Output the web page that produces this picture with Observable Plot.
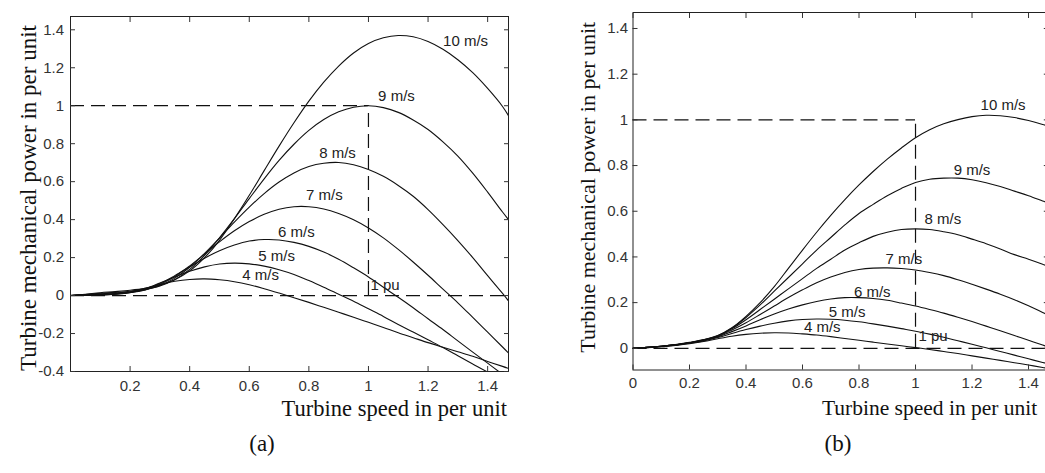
<!DOCTYPE html>
<html>
<head>
<meta charset="utf-8">
<script src="https://cdn.jsdelivr.net/npm/d3@7"></script>
<script src="https://cdn.jsdelivr.net/npm/@observablehq/plot@0.6"></script>
<style>
  html, body { margin: 0; padding: 0; background: #fff; overflow: hidden; width: 1045px; height: 473px; }
  #wrap { position: relative; width: 1045px; height: 473px; overflow: hidden; }
  .panel { position: absolute; top: 0; }
  .panel svg { max-width: none !important; display: block; }
  .caption { position: absolute; font-family: "Liberation Serif", "Times New Roman", serif; font-size: 23px; color: #111; transform: translate(-50%, -50%); }
</style>
</head>
<body>
<div id="wrap">
  <div id="panelA" class="panel" style="left:0px; width:520px"></div>
  <div id="panelB" class="panel" style="left:520px; width:540px"></div>
  <div class="caption" style="left:262px; top:444px">(a)</div>
  <div class="caption" style="left:838px; top:444px">(b)</div>
</div>
<script>
// Turbine speed (pu) at which every curve is sampled
const speed = [0, 0.05, 0.1, 0.15, 0.2, 0.25, 0.3, 0.35, 0.4, 0.45, 0.5, 0.55, 0.6, 0.65, 0.7, 0.75,
               0.8, 0.85, 0.9, 0.95, 1, 1.05, 1.1, 1.15, 1.2, 1.25, 1.3, 1.35, 1.4, 1.45, 1.47];
const windSpeeds = ["10 m/s", "9 m/s", "8 m/s", "7 m/s", "6 m/s", "5 m/s", "4 m/s"];

// Panel (a): mechanical power (pu) per wind speed
const powerA10 = [0, 0.007, 0.015, 0.021, 0.028, 0.038, 0.054, 0.083, 0.130, 0.200, 0.291, 0.405, 0.528, 0.658, 0.787, 0.910,
                  1.024, 1.124, 1.209, 1.278, 1.328, 1.358, 1.370, 1.363, 1.338, 1.297, 1.242, 1.174, 1.091, 0.996, 0.947];
const powerA9  = [0, 0.006, 0.012, 0.017, 0.023, 0.032, 0.050, 0.084, 0.138, 0.212, 0.304, 0.405, 0.511, 0.615, 0.712, 0.797,
                  0.870, 0.927, 0.968, 0.992, 1.000, 0.990, 0.965, 0.925, 0.875, 0.810, 0.735, 0.645, 0.545, 0.440, 0.400];
const powerA8  = [0, 0.005, 0.009, 0.014, 0.019, 0.030, 0.053, 0.092, 0.149, 0.222, 0.303, 0.387, 0.466, 0.537, 0.598, 0.646,
                  0.680, 0.697, 0.701, 0.689, 0.664, 0.628, 0.580, 0.523, 0.453, 0.374, 0.290, 0.200, 0.105, 0.011, -0.028];
const powerA7  = [0, 0.004, 0.007, 0.010, 0.016, 0.030, 0.058, 0.100, 0.156, 0.219, 0.283, 0.341, 0.390, 0.428, 0.455, 0.468,
                  0.468, 0.456, 0.432, 0.399, 0.356, 0.304, 0.243, 0.177, 0.107, 0.034, -0.038, -0.115, -0.193, -0.271, -0.303];
const powerA6  = [0, 0.003, 0.005, 0.008, 0.015, 0.033, 0.063, 0.105, 0.151, 0.197, 0.236, 0.266, 0.287, 0.295, 0.293, 0.280,
                  0.259, 0.229, 0.191, 0.146, 0.098, 0.044, -0.009, -0.064, -0.122, -0.179, -0.239, -0.298, -0.356, -0.415, -0.439];
const powerA5  = [0, 0.002, 0.004, 0.007, 0.016, 0.036, 0.066, 0.098, 0.128, 0.151, 0.166, 0.171, 0.167, 0.155, 0.136, 0.111,
                  0.079, 0.044, 0.007, -0.030, -0.070, -0.110, -0.152, -0.192, -0.233, -0.274, -0.317, -0.360, -0.403, -0.444, -0.460];
const powerA4  = [0, 0.001, 0.002, 0.007, 0.019, 0.038, 0.058, 0.075, 0.085, 0.088, 0.083, 0.073, 0.057, 0.036, 0.013, -0.011,
                  -0.036, -0.062, -0.088, -0.114, -0.141, -0.168, -0.196, -0.222, -0.248, -0.272, -0.296, -0.320, -0.347, -0.373, -0.384];

// Panel (b): mechanical power (pu) per wind speed
const powerB10 = [0, 0.004, 0.009, 0.016, 0.026, 0.038, 0.056, 0.090, 0.140, 0.200, 0.270, 0.350, 0.430, 0.508, 0.582, 0.651,
                  0.715, 0.774, 0.828, 0.877, 0.922, 0.957, 0.983, 1.001, 1.014, 1.020, 1.018, 1.010, 0.997, 0.980, 0.972];
const powerB9  = [0, 0.004, 0.009, 0.015, 0.025, 0.037, 0.055, 0.088, 0.135, 0.190, 0.250, 0.310, 0.370, 0.430, 0.485, 0.540,
                  0.590, 0.630, 0.668, 0.700, 0.726, 0.740, 0.745, 0.745, 0.738, 0.725, 0.708, 0.688, 0.668, 0.645, 0.636];
const powerB8  = [0, 0.004, 0.009, 0.015, 0.024, 0.036, 0.054, 0.085, 0.125, 0.170, 0.215, 0.260, 0.305, 0.350, 0.390, 0.430,
                  0.462, 0.490, 0.508, 0.520, 0.523, 0.520, 0.510, 0.497, 0.478, 0.458, 0.435, 0.410, 0.390, 0.368, 0.358];
const powerB7  = [0, 0.004, 0.009, 0.015, 0.024, 0.035, 0.052, 0.080, 0.112, 0.148, 0.185, 0.222, 0.256, 0.287, 0.312, 0.332,
                  0.345, 0.351, 0.352, 0.349, 0.343, 0.332, 0.318, 0.300, 0.280, 0.259, 0.237, 0.213, 0.186, 0.157, 0.145];
const powerB6  = [0, 0.004, 0.009, 0.015, 0.023, 0.034, 0.050, 0.073, 0.098, 0.125, 0.150, 0.172, 0.190, 0.205, 0.216, 0.222,
                  0.222, 0.218, 0.210, 0.198, 0.185, 0.170, 0.154, 0.136, 0.117, 0.097, 0.077, 0.056, 0.035, 0.014, 0.005];
const powerB5  = [0, 0.003, 0.008, 0.014, 0.022, 0.032, 0.047, 0.065, 0.082, 0.097, 0.110, 0.120, 0.126, 0.128, 0.127, 0.123,
                  0.116, 0.107, 0.097, 0.086, 0.075, 0.062, 0.048, 0.033, 0.018, 0.002, -0.014, -0.030, -0.046, -0.062, -0.068];
const powerB4  = [0, 0.003, 0.007, 0.013, 0.020, 0.030, 0.042, 0.053, 0.061, 0.066, 0.068, 0.067, 0.063, 0.058, 0.051, 0.043,
                  0.035, 0.027, 0.019, 0.011, 0.003, -0.005, -0.014, -0.023, -0.033, -0.043, -0.053, -0.063, -0.073, -0.084, -0.088];

// Where each wind-speed tag sits (speed, power of its baseline)
const tagSpeedA = [1.326, 1.094, 0.896, 0.852, 0.758, 0.692, 0.638];
const tagPowerA = [1.312, 1.023, 0.724, 0.505, 0.308, 0.180, 0.080];
const tagSpeedB = [1.310, 1.200, 1.097, 0.959, 0.847, 0.758, 0.670];
const tagPowerB = [1.041, 0.757, 0.542, 0.370, 0.224, 0.136, 0.070];

// Rated operating point and axis ticks
const ratedSpeed = 1;
const ratedPower = 1;
const ticksXA = [0.2, 0.4, 0.6, 0.8, 1, 1.2, 1.4];
const ticksYA = [-0.4, -0.2, 0, 0.2, 0.4, 0.6, 0.8, 1, 1.2, 1.4];
const ticksXB = [0, 0.2, 0.4, 0.6, 0.8, 1, 1.2, 1.4];
const ticksYB = [0, 0.2, 0.4, 0.6, 0.8, 1, 1.2, 1.4];

const xTitle = "Turbine speed in per unit";
const yTitle = "Turbine mechanical power in per unit";

const SANS = "Liberation Sans, Arial, Helvetica, sans-serif";
const SERIF = "Liberation Serif, Times New Roman, serif";

function rowsOf(series) {
  return series.flatMap((values, k) => values.map((p, i) => ({name: windSpeeds[k], speed: speed[i], power: p})));
}
function tagsOf(xs, ys) {
  return windSpeeds.map((name, k) => ({name, speed: xs[k], power: ys[k]}));
}
const fmt = d => String(Math.round(d * 10) / 10);

function panel(o) {
  const dash = {stroke: "#111", strokeWidth: 1.2, strokeDasharray: "14,7"};
  return Plot.plot({
    width: o.width, height: o.height,
    marginLeft: o.ml, marginRight: o.mr, marginTop: o.mt, marginBottom: o.mb,
    style: {background: "white", color: "#222", fontFamily: SANS, fontSize: "15px", maxWidth: "none"},
    x: {domain: [0, 1.47]},
    y: {domain: o.yDomain},
    marks: [
      Plot.ruleY([ratedPower], {x1: 0, x2: ratedSpeed, ...dash}),
      Plot.ruleY([0], dash),
      Plot.ruleX([ratedSpeed], {y1: 0, y2: ratedPower, ...dash}),
      Plot.line(o.rows, {x: "speed", y: "power", z: "name", stroke: "#111", strokeWidth: 1.1, curve: "catmull-rom", clip: true}),
      Plot.text(o.tags, {x: "speed", y: "power", text: "name", textAnchor: "middle", lineAnchor: "bottom", fill: "#222", fontSize: 15, fontFamily: SANS}),
      Plot.text(["1 pu"], {x: ratedSpeed, y: 0, text: d => d, textAnchor: "start", lineAnchor: "bottom", dx: o.puDx, dy: o.puDy, fill: "#222", fontSize: 15, fontFamily: SANS}),
      Plot.frame({stroke: "#222"}),
      Plot.axisX({anchor: "bottom", ticks: o.ticksX, tickSize: -5, tickPadding: o.padX, tickFormat: fmt, label: null, color: "#333", fontSize: 15, fontFamily: SANS}),
      Plot.axisX({anchor: "top", ticks: o.ticksX, tickSize: -5, tickFormat: () => "", label: null, color: "#333"}),
      Plot.axisY({anchor: "left", ticks: o.ticksY, tickSize: -5, tickPadding: o.padY, tickFormat: fmt, label: null, color: "#333", fontSize: 15, fontFamily: SANS}),
      Plot.axisY({anchor: "right", ticks: o.ticksY, tickSize: -5, tickFormat: () => "", label: null, color: "#333"}),
      Plot.text([xTitle], {frameAnchor: "bottom-right", text: d => d, textAnchor: "end", lineAnchor: "bottom", dx: o.xtDx, dy: o.xtDy, fontFamily: SERIF, fontSize: o.xtSize, fill: "#111"}),
      Plot.text([yTitle], {frameAnchor: "left", text: d => d, rotate: -90, textAnchor: "middle", lineAnchor: "bottom", dx: o.ytDx, dy: o.ytDy, fontFamily: SERIF, fontSize: o.ytSize, fill: "#111"})
    ]
  });
}

document.getElementById("panelA").append(panel({
  width: 520, height: 430, ml: 70, mr: 12, mt: 16, mb: 59,
  yDomain: [-0.4, 1.47],
  rows: rowsOf([powerA10, powerA9, powerA8, powerA7, powerA6, powerA5, powerA4]),
  tags: tagsOf(tagSpeedA, tagPowerA),
  ticksX: ticksXA, ticksY: ticksYA, padX: 14, padY: 11.5,
  puDx: 2, puDy: -6,
  xtDx: -1.5, xtDy: 44, xtSize: 22.5,
  ytDx: -35, ytDy: 4, ytSize: 23
}));

document.getElementById("panelB").append(panel({
  width: 540, height: 430, ml: 112.5, mr: 12.2, mt: 12, mb: 60.5,
  yDomain: [-0.095, 1.47],
  rows: rowsOf([powerB10, powerB9, powerB8, powerB7, powerB6, powerB5, powerB4]),
  tags: tagsOf(tagSpeedB, tagPowerB),
  ticksX: ticksXB, ticksY: ticksYB, padX: 12, padY: 10,
  puDx: 3, puDy: -7,
  xtDx: -11, xtDy: 44.5, xtSize: 21.5,
  ytDx: -38.5, ytDy: -4, ytSize: 22
}));
</script>
</body>
</html>
